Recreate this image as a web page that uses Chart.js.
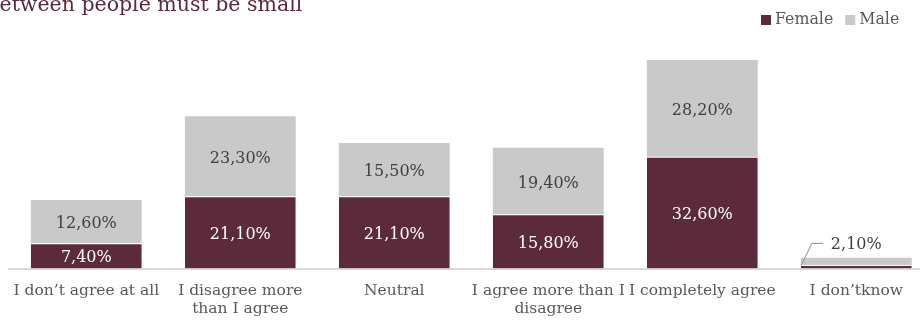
<!DOCTYPE html>
<html>
<head>
<meta charset="utf-8">
<script src="https://cdn.jsdelivr.net/npm/chart.js@4/dist/chart.umd.min.js"></script>
<style>
	html, body { margin: 0; padding: 0; background: #fff; }
	#wrap { width: 920px; height: 325px; overflow: hidden; position: relative; }
	#box { width: 934px; height: 325px; }
</style>
</head>
<body>
<div id="wrap"><div id="box"><canvas id="canvas"></canvas></div></div>
<script>
const categories = [
	'I don’t agree at all',
	['I disagree more', 'than I agree'],
	'Neutral',
	['I agree more than I', 'disagree'],
	'I completely agree',
	'I don’tknow'
];
const female = [7.4, 21.1, 21.1, 15.8, 32.6, 1.0];
const male = [12.6, 23.3, 15.5, 19.4, 28.2, 2.1];
const seriesNames = ['Female', 'Male'];
const seriesColors = ['#5b2a3b', '#c9c9c9'];
const labelColors = ['#ffffff', '#404040'];
const titleText = 'between people must be small';

const FONT = '"DejaVu Serif", Georgia, serif';

function fmt(v) { return v.toFixed(2).replace('.', ',') + '%'; }

// labels inside segments; small male segments get a callout line instead
const segmentLabels = {
	id: 'segmentLabels',
	afterDatasetsDraw(chart) {
		const { ctx } = chart;
		ctx.save();
		ctx.font = '16px ' + FONT;
		ctx.textBaseline = 'middle';
		chart.data.datasets.forEach((ds, di) => {
			const meta = chart.getDatasetMeta(di);
			meta.data.forEach((bar, i) => {
				const v = ds.data[i];
				const h = bar.base - bar.y;
				if (h >= 14) {
					ctx.fillStyle = labelColors[di];
					ctx.textAlign = 'center';
					ctx.fillText(fmt(v), bar.x, (bar.y + bar.base) / 2 + 2.5);
				} else if (di === 1) {
					const left = bar.x - bar.width / 2;
					ctx.strokeStyle = '#8c8c8c';
					ctx.lineWidth = 1;
					ctx.beginPath();
					ctx.moveTo(left + 0.5, bar.y + 7);
					ctx.lineTo(left + 11, bar.y - 14.5);
					ctx.lineTo(left + 22, bar.y - 14.5);
					ctx.stroke();
					ctx.fillStyle = labelColors[di];
					ctx.textAlign = 'left';
					ctx.fillText(fmt(v), left + 30, bar.y - 13);
				}
			});
		});
		ctx.restore();
	}
};

// clipped heading line and legend in the top band
const headerBand = {
	id: 'headerBand',
	afterDraw(chart) {
		const { ctx } = chart;
		ctx.save();
		ctx.font = '20.5px ' + FONT;
		ctx.fillStyle = '#5b2a3b';
		ctx.textBaseline = 'alphabetic';
		ctx.textAlign = 'left';
		ctx.fillText(titleText, -ctx.measureText('b').width - 0.5, 11);

		ctx.font = '15.8px ' + FONT;
		let x = 761;
		seriesNames.forEach((name, i) => {
			ctx.fillStyle = seriesColors[i];
			ctx.fillRect(x, 15, 10, 10);
			ctx.fillStyle = '#595959';
			ctx.fillText(name, x + 14, 24);
			x += 14 + ctx.measureText(name).width + 12;
		});
		ctx.restore();
	}
};

const ctx = document.getElementById('canvas').getContext('2d');
new Chart(ctx, {
	type: 'bar',
	data: {
		labels: categories,
		datasets: [
			{
				label: seriesNames[0], data: female, backgroundColor: seriesColors[0],
				borderColor: '#ffffff', borderWidth: { top: 1, left: 0, right: 0, bottom: 0 }, borderSkipped: false
			},
			{ label: seriesNames[1], data: male, backgroundColor: seriesColors[1], borderWidth: 0 }
		]
	},
	options: {
		responsive: true,
		maintainAspectRatio: false,
		animation: false,
		devicePixelRatio: 1,
		layout: { padding: { top: 28.5, left: 9.3, right: 0.7, bottom: 0 } },
		datasets: { bar: { categoryPercentage: 1, barPercentage: 0.72 } },
		plugins: { legend: { display: false }, tooltip: { enabled: false } },
		scales: {
			x: {
				stacked: true,
				grid: { display: false, drawTicks: false },
				border: { display: true, color: '#d9d9d9', width: 2 },
				ticks: {
					autoSkip: false, maxRotation: 0, padding: 14,
					color: '#595959', font: { family: FONT, size: 15.5, lineHeight: 1.12 }
				},
				afterFit(scale) {
					// fixed band below the bars, no extra side padding from long labels
					scale.height = 56.5;
					scale.paddingLeft = 0;
					scale.paddingRight = 0;
				}
			},
			y: { stacked: true, display: false, min: 0, max: 70 }
		}
	},
	plugins: [segmentLabels, headerBand]
});
</script>
</body>
</html>
